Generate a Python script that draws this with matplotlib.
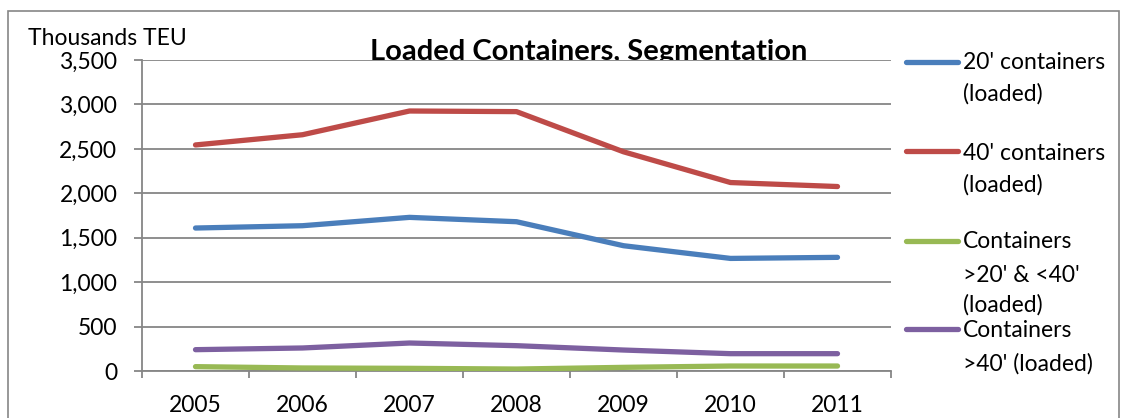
import matplotlib
matplotlib.use("Agg")
import matplotlib.pyplot as plt
from matplotlib.lines import Line2D
from matplotlib.patches import Rectangle
from matplotlib.transforms import Bbox, TransformedBbox

years = ["2005", "2006", "2007", "2008", "2009", "2010", "2011"]
c20 = [1609, 1635, 1729, 1680, 1410, 1267, 1279]
c40 = [2544, 2659, 2926, 2919, 2467, 2121, 2076]
c20_40 = [49, 34, 30, 22, 41, 56, 56]
c40p = [240, 259, 315, 285, 236, 195, 195]
series_names = ["20' containers\n(loaded)", "40' containers\n(loaded)",
                "Containers\n>20' & <40'\n(loaded)", "Containers\n>40' (loaded)"]
colors = ["#4A7EBB", "#BE4B48", "#98B954", "#7D60A0"]
yticks = [0, 500, 1000, 1500, 2000, 2500, 3000, 3500]

FONT = "Lato"
FS = 16.5
GRID = "#868686"
W, H = 1123, 418
fig = plt.figure(figsize=(W / 100, H / 100), dpi=100)
fig.patch.set_facecolor("white")

# axes: left 142px, right 891px, top 60px, bottom 371px
ax = fig.add_axes([142 / W, (H - 371) / H, 749 / W, 311 / H])
x = list(range(len(years)))
ax.set_xlim(-0.5, len(years) - 0.5)
ax.set_ylim(0, 3500)
ax.set_axisbelow(True)
ax.grid(axis="y", color=GRID, linewidth=1.3, zorder=0.5)
for sp in ["top", "right"]:
    ax.spines[sp].set_visible(False)
for sp in ["left", "bottom"]:
    ax.spines[sp].set_color(GRID)
    ax.spines[sp].set_linewidth(1.3)

for vals, col in zip([c20, c40, c20_40, c40p], colors):
    ax.plot(x, vals, color=col, linewidth=3.8, solid_capstyle="round", zorder=3)

ax.set_yticks(yticks)
ax.set_yticklabels([f"{v:,}" for v in yticks], fontfamily=FONT, fontsize=FS)
ax.set_xticks([i - 0.5 for i in range(len(years) + 1)])
ax.set_xticklabels([])
ax.set_xticks(x, minor=True)
ax.set_xticklabels(years, minor=True, fontfamily=FONT, fontsize=FS)
ax.tick_params(axis="x", which="major", length=5, color=GRID, width=1.3, direction="out")
ax.tick_params(axis="x", which="minor", length=0, pad=17)
ax.tick_params(axis="y", length=5.8, color=GRID, width=1.3, pad=12)

t = ax.text(0.596, 1.0, "Loaded Containers, Segmentation", transform=ax.transAxes,
            ha="center", va="baseline", fontfamily=FONT, fontsize=21,
            fontweight="bold", zorder=0.1)
t.set_clip_box(TransformedBbox(Bbox([[-0.5, 1.0], [1.5, 2.0]]), ax.transAxes))
t.set_clip_on(True)

fig.text(28 / W, 1 - 45 / H, "Thousands TEU", ha="left", va="baseline",
         fontfamily=FONT, fontsize=FS)

# outer border
fig.patches.append(Rectangle((7.5 / W, -0.05), (1119 - 7.5) / W, 1.05 - 11 / H,
                             transform=fig.transFigure, fill=False,
                             edgecolor=GRID, linewidth=1.2))

# legend (manual): handle y and text baselines in pixels
handle_y = [62, 151, 241, 329]
line_baselines = [[69, 101], [160, 192], [248, 282, 312], [337, 371]]
for name, col, hy, bls in zip(series_names, colors, handle_y, line_baselines):
    fig.add_artist(Line2D([906 / W, 958 / W], [1 - hy / H, 1 - hy / H],
                          color=col, linewidth=3.8, solid_capstyle="round",
                          transform=fig.transFigure))
    for line, bl in zip(name.split("\n"), bls):
        fig.text(963 / W, 1 - bl / H, line, ha="left", va="baseline",
                 fontfamily=FONT, fontsize=FS)

fig.savefig("out.png", dpi=100)
